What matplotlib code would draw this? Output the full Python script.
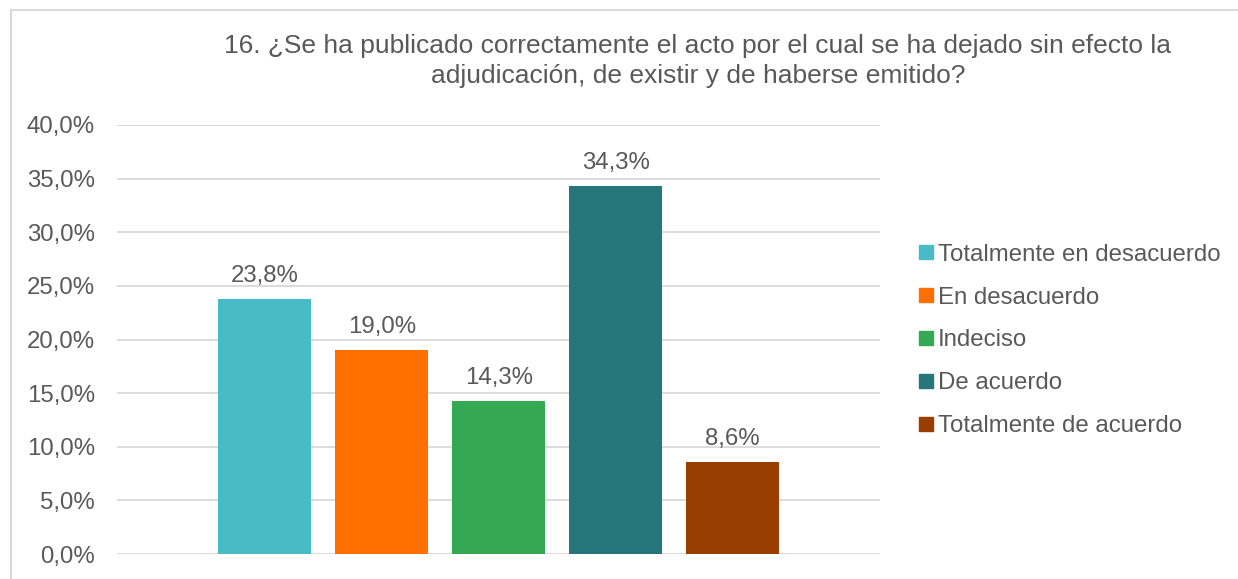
import matplotlib.pyplot as plt
from matplotlib.patches import Rectangle
from matplotlib.lines import Line2D

plt.rcParams['font.family'] = ['Liberation Sans', 'DejaVu Sans']

series = ['Totalmente en desacuerdo', 'En desacuerdo', 'Indeciso',
          'De acuerdo', 'Totalmente de acuerdo']
values = [23.8, 19.0, 14.3, 34.3, 8.6]
colors = ['#48BCC6', '#FF6F00', '#34A853', '#26767B', '#9A3D00']
yticks = [0, 5, 10, 15, 20, 25, 30, 35, 40]

title = ('16. ¿Se ha publicado correctamente el acto por el cual se ha dejado sin efecto la\n'
         'adjudicación, de existir y de haberse emitido?')

txt = '#595959'
W, H = 1238, 579
fig = plt.figure(figsize=(W / 100, H / 100), dpi=100)
ax = fig.add_axes([117 / W, 1 - 554 / H, (880 - 117) / W, (554 - 125) / H])

# outer chart frame (extends past right/bottom edges)
fig.patches.append(Rectangle((11 / W, -0.1), 1.2, 1 - 10 / H + 0.1,
                             transform=fig.transFigure, fill=False,
                             edgecolor='#D9D9D9', linewidth=1.5))

for i, (v, c) in enumerate(zip(values, colors)):
    ax.bar(i, v, width=0.795, color=c, zorder=3)
    ax.text(i, v + 1.1, f'{v:.1f}%'.replace('.', ','), ha='center', va='bottom',
            fontsize=17.3, color=txt)

ax.set_xlim(-1.265, 5.26)
ax.set_ylim(0, 40)
ax.set_yticks(yticks)
ax.set_yticklabels([f'{t:.1f}%'.replace('.', ',') for t in yticks], fontsize=17.3, color=txt)
ax.set_xticks([])
ax.grid(axis='y', color='#D9D9D9', linewidth=1.3, zorder=0)
ax.tick_params(axis='y', length=0, pad=16)
for s in ax.spines.values():
    s.set_visible(False)

fig.text(698 / W, 1 - 61 / H, title, ha='center', va='center', fontsize=19,
         color=txt, linespacing=1.33)

handles = [Line2D([0], [0], marker='s', linestyle='', markersize=9.5,
                  markerfacecolor=c, markeredgecolor=c) for c in colors]
leg = fig.legend(handles, series, loc='upper left', bbox_to_anchor=(908 / W, 1 - 234 / H),
                 frameon=False, fontsize=17.3, handlelength=0.7, handletextpad=0.15,
                 labelspacing=0.87, labelcolor=txt, borderaxespad=0)

fig.savefig('out.png', dpi=100)
